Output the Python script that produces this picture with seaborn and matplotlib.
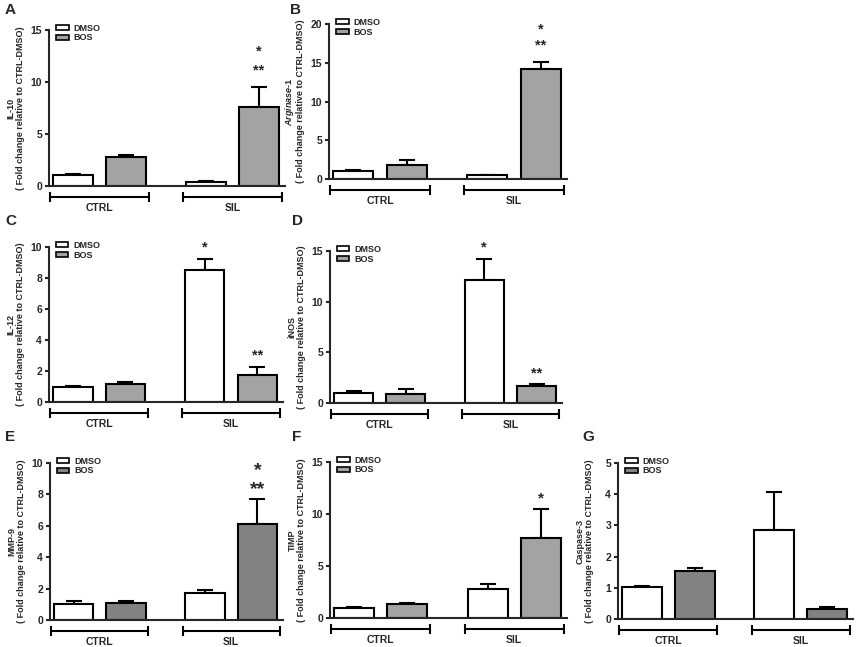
import matplotlib
matplotlib.use('Agg')
import matplotlib.pyplot as plt
import seaborn as sns
import pandas as pd
import numpy as np

sns.set_style("ticks")
plt.rcParams['font.family'] = ['Liberation Sans', 'DejaVu Sans']
plt.rcParams['font.weight'] = 'bold'
plt.rcParams['mathtext.fontset'] = 'custom'
plt.rcParams['mathtext.it'] = 'Liberation Sans:italic:bold'
plt.rcParams['mathtext.rm'] = 'Liberation Sans:bold'

GROUPS = ["CTRL", "SIL"]
TREATMENTS = ["DMSO", "BOS"]
YLABEL_SUB = "( Fold change relative to CTRL-DMSO)"

# values in order: CTRL-DMSO, CTRL-BOS, SIL-DMSO, SIL-BOS
IL10_MEAN = [1.05, 2.8, 0.4, 7.55]
IL10_SEM = [0.15, 0.2, 0.1, 2.0]
ARG1_MEAN = [1.0, 1.75, 0.5, 14.2]
ARG1_SEM = [0.1, 0.75, 0.05, 0.95]
IL12_MEAN = [0.97, 1.18, 8.5, 1.72]
IL12_SEM = [0.06, 0.09, 0.7, 0.54]
INOS_MEAN = [1.02, 0.89, 12.15, 1.71]
INOS_SEM = [0.16, 0.49, 2.05, 0.16]
MMP9_MEAN = [1.04, 1.08, 1.69, 6.14]
MMP9_SEM = [0.16, 0.11, 0.21, 1.56]
TIMP_MEAN = [1.0, 1.38, 2.79, 7.7]
TIMP_SEM = [0.1, 0.09, 0.48, 2.75]
CASP3_MEAN = [1.01, 1.54, 2.85, 0.33]
CASP3_SEM = [0.05, 0.11, 1.22, 0.04]

# significance marks: (group, treatment, text, y value, fontsize)
STARS_A = [("SIL", "BOS", "*", 12.9, 10.5), ("SIL", "BOS", "**", 11.1, 10.5)]
STARS_B = [("SIL", "BOS", "*", 19.3, 10.5), ("SIL", "BOS", "**", 17.2, 10.5)]
STARS_C = [("SIL", "DMSO", "*", 10.0, 10.5), ("SIL", "BOS", "**", 3.0, 10.5)]
STARS_D = [("SIL", "DMSO", "*", 15.3, 10.5), ("SIL", "BOS", "**", 2.9, 10.5)]
STARS_E = [("SIL", "BOS", "*", 9.5, 14), ("SIL", "BOS", "**", 8.3, 14)]
STARS_F = [("SIL", "BOS", "*", 11.5, 11)]
STARS_G = []

LIGHT_GRAY = '#a3a3a3'
DARK_GRAY = '#828282'

# (letter, letter pos px, gene, mean, sem, ymax, ystep, stars, bos colour, axes rect px l, t, r, b)
PANELS = [
    ("A", (5, 10), "IL-10", IL10_MEAN, IL10_SEM, 15, 5, STARS_A, LIGHT_GRAY, (49, 30, 285, 186)),
    ("B", (290, 10), "$Arginase$-1", ARG1_MEAN, ARG1_SEM, 20, 5, STARS_B, LIGHT_GRAY, (329, 24, 567, 179)),
    ("C", (5, 221), "IL-12", IL12_MEAN, IL12_SEM, 10, 2, STARS_C, LIGHT_GRAY, (49, 247, 283, 402)),
    ("D", (292, 221), "iNOS", INOS_MEAN, INOS_SEM, 15, 5, STARS_D, LIGHT_GRAY, (330, 251, 562, 403)),
    ("E", (5, 437), "MMP-9", MMP9_MEAN, MMP9_SEM, 10, 2, STARS_E, DARK_GRAY, (50, 463, 283, 620)),
    ("F", (292, 437), "TIMP", TIMP_MEAN, TIMP_SEM, 15, 5, STARS_F, LIGHT_GRAY, (330, 462, 567, 618)),
    ("G", (582, 437), "Caspase-3", CASP3_MEAN, CASP3_SEM, 5, 1, STARS_G, DARK_GRAY, (618, 463, 853, 619)),
]

W, H = 856, 647
fig = plt.figure(figsize=(W / 100, H / 100), dpi=100)


def draw_panel(letter, letter_pos, gene, mean, sem, ymax, ystep, stars, bos_color, box):
    l, t, r, b = box
    ax = fig.add_axes([l / W, (H - b) / H, (r - l) / W, (b - t) / H])
    ax_h = b - t
    ax_w = r - l

    df = pd.DataFrame({
        "group": [g for g in GROUPS for _ in TREATMENTS],
        "treatment": TREATMENTS * len(GROUPS),
        "value": mean,
        "err": sem,
    })
    sns.barplot(data=df, x="group", y="value", hue="treatment", order=GROUPS,
                hue_order=TREATMENTS, palette={"DMSO": "white", "BOS": bos_color},
                edgecolor="black", linewidth=1.5, width=0.8, gap=0.25,
                errorbar=None, saturation=1, ax=ax, zorder=2)

    # one-sided error bars on top of each bar
    centers = {}
    bar_conts = list(ax.containers)
    for ti, cont in enumerate(bar_conts):
        for gi, bar in enumerate(cont):
            cx = bar.get_x() + bar.get_width() / 2
            centers[(GROUPS[gi], TREATMENTS[ti])] = cx
            row = df[(df.group == GROUPS[gi]) & (df.treatment == TREATMENTS[ti])].iloc[0]
            ax.errorbar(cx, row["value"], yerr=[[0], [row["err"]]], color='black',
                        elinewidth=1.5, capsize=6, capthick=1.5, zorder=1)

    for g, tr, txt, yv, fs in stars:
        ax.text(centers[(g, tr)], yv, txt, ha='center', va='center',
                fontsize=fs, fontweight='bold')

    ax.set_xlim(-0.38, 1.395)
    ax.set_ylim(0, ymax)
    ax.set_yticks(np.arange(0, ymax + 0.01, ystep))
    ax.set_xticks([])
    ax.set_xlabel("")
    ax.tick_params(axis='y', labelsize=7.5, width=1.5, length=3, pad=2)
    for lab in ax.get_yticklabels():
        lab.set_fontweight('bold')
    sns.despine(ax=ax)
    ax.spines['left'].set_linewidth(1.5)
    ax.spines['bottom'].set_linewidth(1.5)

    ax.set_ylabel(gene + "\n" + YLABEL_SUB, fontsize=6.5, fontweight='bold',
                  linespacing=1.05, multialignment='center')
    ax.yaxis.set_label_coords(-24 / ax_w, 0.5)

    # group brackets beneath the axis
    trans = ax.get_xaxis_transform()
    for gi, g in enumerate(GROUPS):
        ax.plot([gi - 0.37, gi + 0.37], [-11 / ax_h, -11 / ax_h], transform=trans,
                color='black', lw=1.5, clip_on=False, marker='|', ms=7, mew=1.5)
        ax.text(gi, -22 / ax_h, g, transform=trans, ha='center', va='center',
                fontsize=7.5, fontweight='bold')

    leg = ax.legend(loc='upper left', bbox_to_anchor=(0.01, 1.07), frameon=False,
                    fontsize=6.5, handlelength=1.4, handleheight=0.55,
                    labelspacing=0.1, borderpad=0, handletextpad=0.5)
    for hnd in leg.legend_handles:
        hnd.set_edgecolor('black')
        hnd.set_linewidth(1.2)

    fig.text(letter_pos[0] / W, 1 - letter_pos[1] / H, letter,
             fontsize=11, fontweight='bold', va='center', ha='left')
    return ax


for p in PANELS:
    draw_panel(*p)

fig.savefig("out.png", dpi=100)
